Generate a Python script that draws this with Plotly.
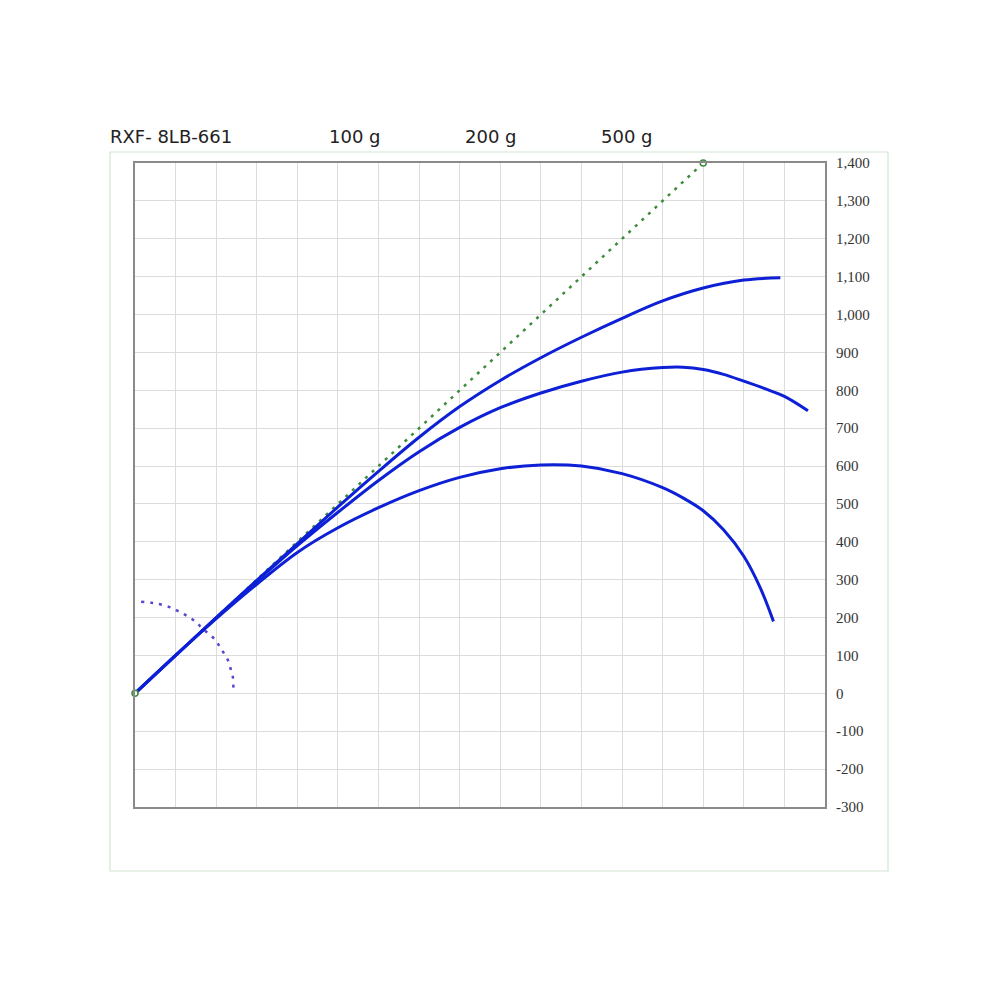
import plotly.graph_objects as go

# ---- data ----
title_labels = ["RXF- 8LB-661", "100 g", "200 g", "500 g"]

# curve for 100 g load
c100_x = [0, 100, 200, 300, 400, 500, 600, 700, 800, 900, 1000, 1100, 1200, 1300, 1400, 1500, 1590]
c100_y = [0, 100, 200, 298, 395, 492, 586, 676, 757, 826, 886, 940, 990, 1036, 1070, 1091, 1097]

# curve for 200 g load
c200_x = [0, 100, 200, 300, 400, 500, 600, 700, 800, 900, 1000, 1100, 1200, 1300, 1350, 1400, 1450, 1500, 1550, 1600, 1658]
c200_y = [0, 100, 199, 296, 390, 478, 562, 638, 702, 754, 793, 824, 848, 860, 861, 855, 842, 824, 805, 784, 746]

# curve for 500 g load
c500_x = [0, 100, 200, 300, 400, 500, 600, 700, 800, 900, 1000, 1100, 1200, 1300, 1350, 1400, 1450, 1500, 1540, 1573]
c500_y = [0, 100, 197, 288, 372, 437, 490, 535, 570, 593, 603, 600, 580, 543, 516, 482, 432, 362, 280, 190]

# straight (unloaded) reference line
ref_x = [0, 1400]
ref_y = [0, 1400]

# dotted arc near the origin
arc_x = [15, 41, 62, 82, 101, 119, 135, 152, 164, 181, 197, 209, 219, 230, 236, 241, 242, 244]
arc_y = [242, 239, 235, 229, 220, 210, 200, 187, 173, 158, 142, 123, 106, 85, 63, 44, 24, 0]

x_range = [0, 1700]
y_range = [-300, 1400]
y_ticks = list(range(-300, 1401, 100))
y_ticktext = [f"{v:,}" for v in y_ticks]

BLUE = "#0d20d6"
GREEN = "#3d8b3d"
ARC = "#5548d0"

fig = go.Figure()

fig.add_trace(go.Scatter(x=arc_x, y=arc_y, mode="lines",
                         line=dict(color=ARC, width=2.5, dash="3px,6px", shape="spline"),
                         hoverinfo="skip", showlegend=False))
fig.add_trace(go.Scatter(x=ref_x, y=ref_y, mode="lines",
                         line=dict(color=GREEN, width=2.5, dash="3px,6px"),
                         showlegend=False))
for xs, ys in [(c100_x, c100_y), (c200_x, c200_y), (c500_x, c500_y)]:
    fig.add_trace(go.Scatter(x=xs, y=ys, mode="lines",
                             line=dict(color=BLUE, width=3, shape="spline", smoothing=1.0),
                             showlegend=False))
fig.add_trace(go.Scatter(x=ref_x, y=ref_y, mode="markers",
                         marker=dict(symbol="circle", size=6, color="white",
                                     line=dict(width=1.5, color=GREEN)),
                         cliponaxis=False, showlegend=False))

# outer light-green frame
fig.add_shape(type="rect", xref="paper", yref="paper",
              x0=-0.0362, x1=1.0913, y0=-0.0994, y1=1.0171,
              line=dict(color="#d3e6d3", width=1.2), fillcolor="rgba(0,0,0,0)", layer="below")

# top labels
title_pos = [(108, "left"), (355, "center"), (491, "center"), (627, "center")]
for text, (px, anchor) in zip(title_labels, title_pos):
    fig.add_annotation(x=(px - 135) / 690, y=(807 - 136) / 644, xref="paper", yref="paper",
                       text=text, showarrow=False, xanchor=anchor, yanchor="middle",
                       font=dict(family="DejaVu Sans, sans-serif", size=18, color="#222"))

fig.update_layout(
    width=1000, height=1000,
    margin=dict(l=127, r=183, t=155, b=201),
    paper_bgcolor="white", plot_bgcolor="white",
    xaxis=dict(range=x_range, dtick=100, tick0=0, showticklabels=False, showgrid=True,
               gridcolor="#dcdcdc", gridwidth=1, zeroline=False, showline=True, mirror=True,
               linecolor="#8a8a8a", linewidth=2, ticks=""),
    yaxis=dict(range=y_range, tickvals=y_ticks, ticktext=y_ticktext, side="right",
               showgrid=True, gridcolor="#dcdcdc", gridwidth=1, zeroline=False,
               showline=True, mirror=True, linecolor="#8a8a8a", linewidth=2, ticks="",
               ticklabelstandoff=6,
               tickfont=dict(family="Liberation Serif, Times New Roman, serif", size=15, color="#333")),
)

fig.write_html("out.html")
